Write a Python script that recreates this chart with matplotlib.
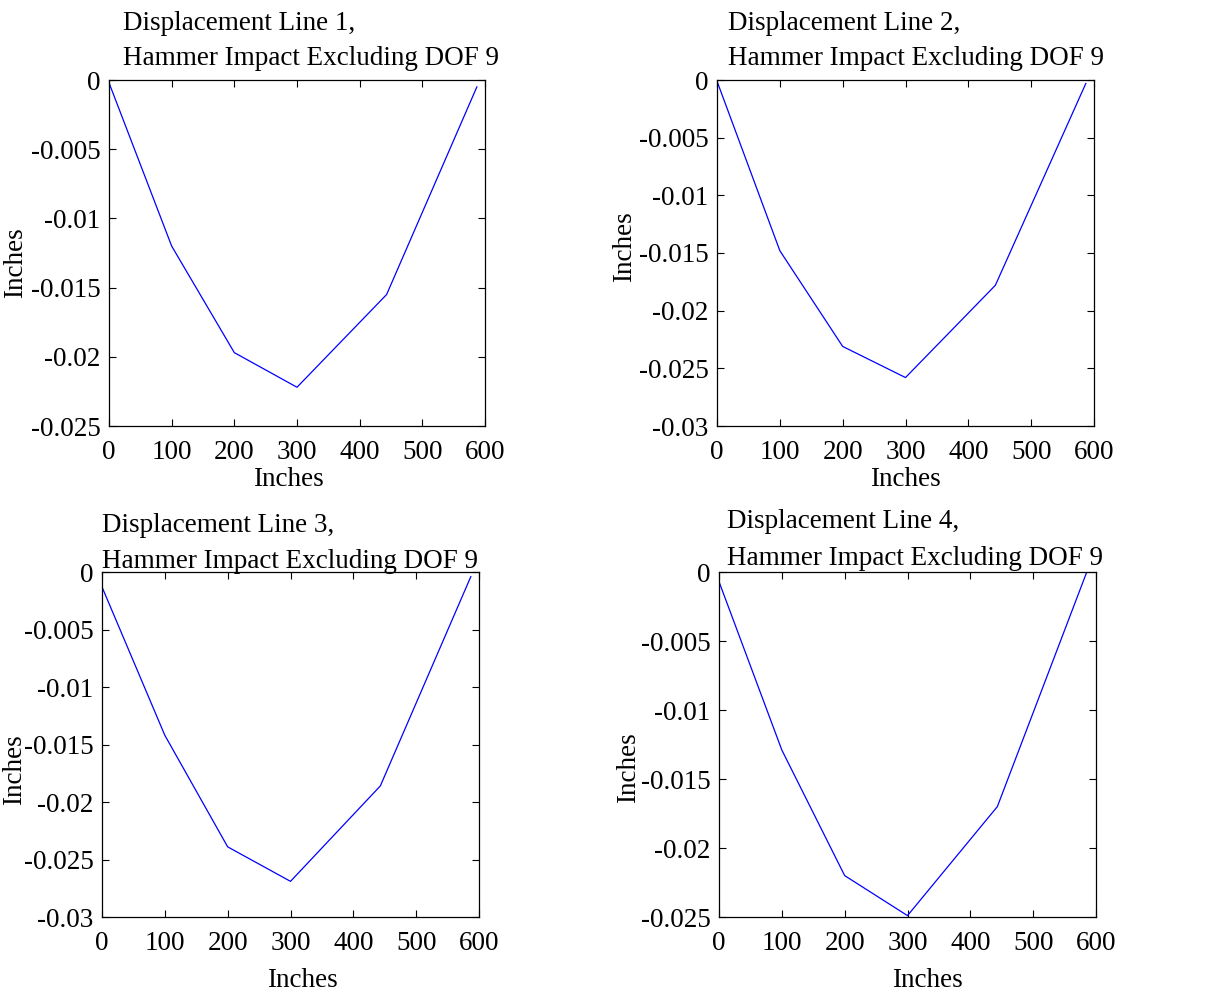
import matplotlib
matplotlib.use("Agg")
import matplotlib.pyplot as plt
from matplotlib.ticker import FuncFormatter

plt.rcParams['font.family'] = ['Liberation Serif', 'DejaVu Serif']
plt.rcParams['axes.unicode_minus'] = False

# ---- data ----
x_positions = [0, 100, 200, 300, 443, 587]
line1 = [-0.0002, -0.0120, -0.0197, -0.0222, -0.0155, -0.0005]
line2 = [-0.0001, -0.0148, -0.0231, -0.0258, -0.0178, -0.0003]
line3 = [-0.0013, -0.0142, -0.0239, -0.0269, -0.0186, -0.0004]
line4 = [-0.0007, -0.0129, -0.0220, -0.0249, -0.0170, 0.0002]
title_line1 = ["Displacement Line 1,", "Displacement Line 2,",
               "Displacement Line 3,", "Displacement Line 4,"]
title_line2 = "Hammer Impact Excluding DOF 9"
x_ticks = [0, 100, 200, 300, 400, 500, 600]
y_limits = [(-0.025, 0), (-0.03, 0), (-0.03, 0), (-0.025, 0)]
x_label = "Inches"
y_label = "Inches"

# ---- layout (pixels) ----
W, H = 1225, 996
fig = plt.figure(figsize=(W / 100, H / 100), dpi=100)
rects_px = [(109, 80, 485, 426), (717, 80, 1094, 426),
            (102, 572, 479, 917), (719, 572, 1096, 917)]
title_px = [(123, 30, 65), (728, 30, 65), (102, 532, 568), (727, 528, 565)]
xlabel_px = [(288, 480), (905, 480), (302, 980), (927, 980)]
ylabel_px = [(16, 263), (625, 247), (15, 770), (629, 768)]
FS = 19.5


def fx(px):
    return px / W


def fy(py):
    return 1 - py / H


series = [line1, line2, line3, line4]
for i, (l, t, r, b) in enumerate(rects_px):
    ax = fig.add_axes([fx(l), fy(b), (r - l) / W, (b - t) / H])
    ax.plot(x_positions, series[i], color=(0, 0, 1), lw=0.9)
    ax.set_xlim(0, 600)
    ax.set_ylim(*y_limits[i])
    ax.set_xticks(x_ticks)
    lo = y_limits[i][0]
    n = int(round(-lo / 0.005))
    ax.set_yticks([-0.005 * k for k in range(n + 1)])
    ax.yaxis.set_major_formatter(
        FuncFormatter(lambda v, p: "%g" % round(v, 6) if abs(v) > 1e-12 else "0"))
    ax.tick_params(direction='in', length=5, width=0.8, top=True, right=True,
                   labelsize=FS)
    ax.tick_params(axis='x', pad=10)
    ax.tick_params(axis='y', pad=6)
    for s in ax.spines.values():
        s.set_linewidth(0.9)

    ax.set_xlabel(x_label, fontsize=FS)
    ax.set_ylabel(y_label, fontsize=FS)
    xl, yl = xlabel_px[i]
    ax.xaxis.set_label_coords(fx(xl), fy(yl), transform=fig.transFigure)
    ax.xaxis.label.set_verticalalignment('center')
    xl, yl = ylabel_px[i]
    ax.yaxis.set_label_coords(fx(xl), fy(yl), transform=fig.transFigure)
    ax.yaxis.label.set_horizontalalignment('center')
    ax.yaxis.label.set_verticalalignment('center')

    tx, b1, b2 = title_px[i]
    fig.text(fx(tx), fy(b1), title_line1[i], ha='left', va='baseline', fontsize=FS)
    fig.text(fx(tx), fy(b2), title_line2, ha='left', va='baseline', fontsize=FS)

fig.savefig("out.png", dpi=100)
